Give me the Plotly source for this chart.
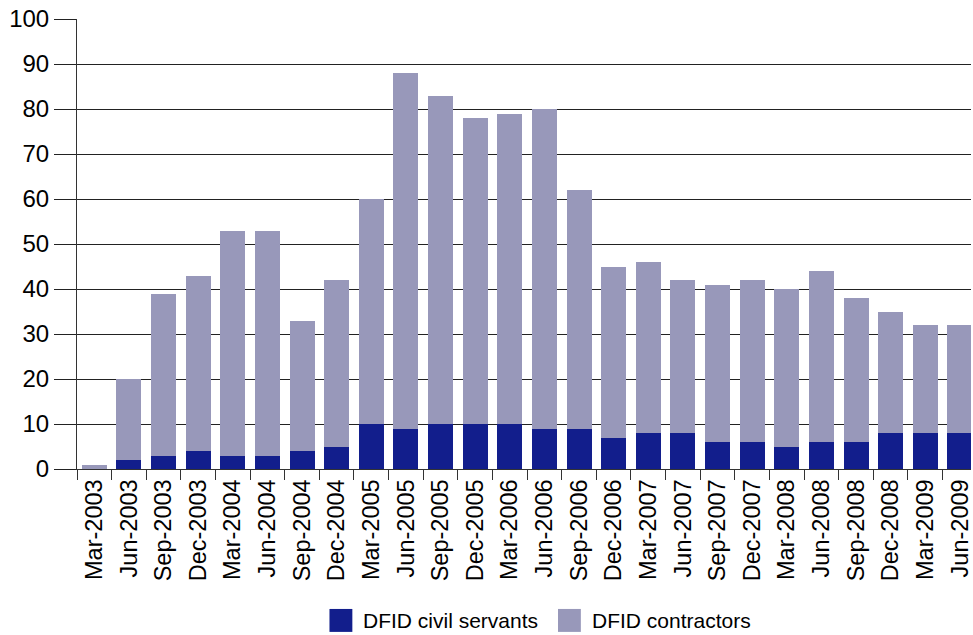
import plotly.graph_objects as go

categories = ["Mar-2003", "Jun-2003", "Sep-2003", "Dec-2003", "Mar-2004", "Jun-2004",
              "Sep-2004", "Dec-2004", "Mar-2005", "Jun-2005", "Sep-2005", "Dec-2005",
              "Mar-2006", "Jun-2006", "Sep-2006", "Dec-2006", "Mar-2007", "Jun-2007",
              "Sep-2007", "Dec-2007", "Mar-2008", "Jun-2008", "Sep-2008", "Dec-2008",
              "Mar-2009", "Jun-2009"]
totals = [1, 20, 39, 43, 53, 53, 33, 42, 60, 88, 83, 78, 79, 80, 62, 45, 46, 42,
          41, 42, 40, 44, 38, 35, 32, 32]
civil_servants = [0, 2, 3, 4, 3, 3, 4, 5, 10, 9, 10, 10, 10, 9, 9, 7, 8, 8,
                  6, 6, 5, 6, 6, 8, 8, 8]
contractors = [t - c for t, c in zip(totals, civil_servants)]

series_names = ["DFID civil servants", "DFID contractors"]
colors = ["#121E8C", "#9898BA"]

fig = go.Figure()
fig.add_trace(go.Bar(x=categories, y=civil_servants, name=series_names[0],
                     marker=dict(color=colors[0], line=dict(width=0))))
fig.add_trace(go.Bar(x=categories, y=contractors, name=series_names[1],
                     marker=dict(color=colors[1], line=dict(width=0))))

font_family = "Liberation Sans, Arial, Helvetica, sans-serif"

fig.update_layout(
    barmode="stack",
    bargap=0.28,
    width=973, height=635,
    margin=dict(l=77, r=0, t=19, b=166),
    paper_bgcolor="white", plot_bgcolor="white",
    showlegend=False,
    font=dict(family=font_family, color="black"),
    xaxis=dict(
        type="category",
        range=[-0.5, 25.32],
        tickson="boundaries",
        ticks="outside", ticklen=10, tickcolor="#333", tickwidth=1,
        tickangle=-90,
        tickfont=dict(size=23.5, family=font_family, color="black"),
        showline=True, linecolor="#333", linewidth=1,
        showgrid=False,
    ),
    yaxis=dict(
        range=[0, 100],
        tickvals=[0, 10, 20, 30, 40, 50, 60, 70, 80, 90, 100],
        ticks="outside", ticklen=22, tickcolor="#222", tickwidth=1,
        tickfont=dict(size=24, family=font_family, color="black"),
        showline=True, linecolor="#333", linewidth=1,
        showgrid=True, gridcolor="#222", gridwidth=1,
        zeroline=False,
    ),
)

# custom legend (large swatches like the reference)
legend_items = [
    (0.2824, 0.3080, 0.318, series_names[0], colors[0]),
    (0.5380, 0.5636, 0.5737, series_names[1], colors[1]),
]
for x0, x1, xt, name, col in legend_items:
    fig.add_shape(type="rect", xref="paper", yref="paper",
                  x0=x0, x1=x1, y0=-0.362, y1=-0.311,
                  fillcolor=col, line=dict(width=0))
    fig.add_annotation(xref="paper", yref="paper", x=xt, y=-0.3365,
                       text=name, showarrow=False, xanchor="left", yanchor="middle",
                       font=dict(size=21, family=font_family, color="black"))

fig.write_html("out.html",
               config={"displayModeBar": False},
               post_script="document.body.style.margin='0';document.body.style.overflow='hidden';")
